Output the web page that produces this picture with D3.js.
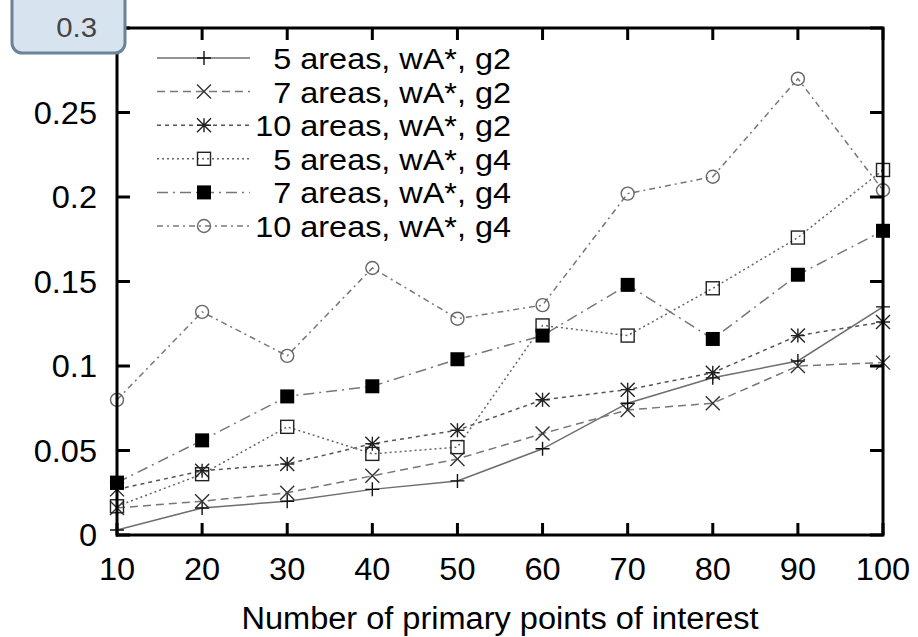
<!DOCTYPE html>
<html>
<head>
<meta charset="utf-8">
<script src="https://cdn.jsdelivr.net/npm/d3@7"></script>
<style>
  html, body { margin: 0; padding: 0; background: #fff; }
  svg { display: block; }
  text { font-family: "Liberation Sans", Arial, Helvetica, sans-serif; }
</style>
</head>
<body>
<svg id="chart" width="918" height="637"></svg>
<script>
// Number of primary points of interest
const xValues = [10, 20, 30, 40, 50, 60, 70, 80, 90, 100];

// one array per configuration
const areas5g2  = [0.003, 0.016, 0.020, 0.027, 0.032, 0.051, 0.078, 0.093, 0.103, 0.135];
const areas7g2  = [0.016, 0.020, 0.025, 0.035, 0.045, 0.060, 0.074, 0.078, 0.100, 0.102];
const areas10g2 = [0.027, 0.038, 0.042, 0.054, 0.062, 0.080, 0.086, 0.096, 0.118, 0.126];
const areas5g4  = [0.017, 0.036, 0.064, 0.048, 0.052, 0.124, 0.118, 0.146, 0.176, 0.216];
const areas7g4  = [0.031, 0.056, 0.082, 0.088, 0.104, 0.118, 0.148, 0.116, 0.154, 0.180];
const areas10g4 = [0.080, 0.132, 0.106, 0.158, 0.128, 0.136, 0.202, 0.212, 0.270, 0.204];

const seriesNames = [
  "5 areas, wA*, g2", "7 areas, wA*, g2", "10 areas, wA*, g2",
  "5 areas, wA*, g4", "7 areas, wA*, g4", "10 areas, wA*, g4"
];
const seriesValues = [areas5g2, areas7g2, areas10g2, areas5g4, areas7g4, areas10g4];

const xTicks = [10, 20, 30, 40, 50, 60, 70, 80, 90, 100];
const yTicks = [0, 0.05, 0.1, 0.15, 0.2, 0.25, 0.3];
const yTickLabels = ["0", "0.05", "0.1", "0.15", "0.2", "0.25", "0.3"];
const xTitle = "Number of primary points of interest";

// drawing styles per series
const styles = [
  { dash: null,          line: "#6e6e6e", mark: "plus",   markColor: "#111" },
  { dash: "8,5",         line: "#777",    mark: "cross",  markColor: "#333" },
  { dash: "4,4",         line: "#555",    mark: "star",   markColor: "#222" },
  { dash: "2,3",         line: "#666",    mark: "square", markColor: "#222" },
  { dash: "11,5,2,5",    line: "#777",    mark: "filled", markColor: "#000" },
  { dash: "6,4,2,4",     line: "#777",    mark: "circle", markColor: "#666" }
];

const svg = d3.select("#chart");
const plotLeft = 117, plotRight = 883, plotTop = 28, plotBottom = 535;

const x = d3.scaleLinear().domain([10, 100]).range([plotLeft, plotRight]);
const y = d3.scaleLinear().domain([0, 0.3]).range([plotBottom, plotTop]);

function stretchedText(g, str, px, py, size, anchor, sx) {
  return g.append("text")
    .attr("transform", `translate(${px},${py}) scale(${sx},1)`)
    .attr("font-size", size)
    .attr("text-anchor", anchor)
    .attr("fill", "#000")
    .text(str);
}

function drawMarker(g, kind, cx, cy, color) {
  const s = 7;
  if (kind === "plus") {
    g.append("path").attr("d", `M${cx - s},${cy}H${cx + s}M${cx},${cy - s}V${cy + s}`)
      .attr("stroke", color).attr("stroke-width", 1.4).attr("fill", "none");
  } else if (kind === "cross") {
    g.append("path").attr("d", `M${cx - s},${cy - s}L${cx + s},${cy + s}M${cx - s},${cy + s}L${cx + s},${cy - s}`)
      .attr("stroke", color).attr("stroke-width", 1.4).attr("fill", "none");
  } else if (kind === "star") {
    g.append("path").attr("d",
      `M${cx - s},${cy - s}L${cx + s},${cy + s}M${cx - s},${cy + s}L${cx + s},${cy - s}` +
      `M${cx - s},${cy}H${cx + s}M${cx},${cy - s}V${cy + s}`)
      .attr("stroke", color).attr("stroke-width", 1.4).attr("fill", "none");
  } else if (kind === "square") {
    g.append("rect").attr("x", cx - 6.5).attr("y", cy - 6.5).attr("width", 13).attr("height", 13)
      .attr("stroke", color).attr("stroke-width", 1.4).attr("fill", "none");
  } else if (kind === "filled") {
    g.append("rect").attr("x", cx - 7).attr("y", cy - 7).attr("width", 14).attr("height", 14)
      .attr("fill", color);
  } else if (kind === "circle") {
    g.append("circle").attr("cx", cx).attr("cy", cy).attr("r", 6.5)
      .attr("stroke", color).attr("stroke-width", 1.4).attr("fill", "none");
  }
}

// series lines
const line = d3.line().x(d => x(d[0])).y(d => y(d[1]));
const plot = svg.append("g");
seriesValues.forEach((vals, i) => {
  const pts = xValues.map((xv, j) => [xv, vals[j]]);
  plot.append("path")
    .attr("d", line(pts))
    .attr("fill", "none")
    .attr("stroke", styles[i].line)
    .attr("stroke-width", 1.5)
    .attr("stroke-dasharray", styles[i].dash);
});
seriesValues.forEach((vals, i) => {
  xValues.forEach((xv, j) => drawMarker(plot, styles[i].mark, x(xv), y(vals[j]), styles[i].markColor));
});

// ticks pointing inward on all four sides
const axes = svg.append("g").attr("stroke", "#000").attr("stroke-width", 3);
xTicks.forEach(t => {
  axes.append("line").attr("x1", x(t)).attr("x2", x(t)).attr("y1", plotBottom).attr("y2", plotBottom - 12);
  axes.append("line").attr("x1", x(t)).attr("x2", x(t)).attr("y1", plotTop).attr("y2", plotTop + 12);
});
yTicks.forEach(t => {
  axes.append("line").attr("x1", plotLeft).attr("x2", plotLeft + 13).attr("y1", y(t)).attr("y2", y(t));
  axes.append("line").attr("x1", plotRight).attr("x2", plotRight - 13).attr("y1", y(t)).attr("y2", y(t));
});
// frame
axes.append("rect").attr("x", plotLeft).attr("y", plotTop)
  .attr("width", plotRight - plotLeft).attr("height", plotBottom - plotTop)
  .attr("fill", "none");

// tick labels
const labels = svg.append("g");
xTicks.forEach(t => stretchedText(labels, String(t), x(t), 580, 31, "middle", 1.05));
yTicks.forEach((t, i) => {
  if (i === yTicks.length - 1) return;
  stretchedText(labels, yTickLabels[i], 97, y(t) + 11, 31, "end", 1.05);
});

// axis title
stretchedText(labels, xTitle, (plotLeft + plotRight) / 2, 629, 31, "middle", 1.05);

// legend
const legend = svg.append("g");
seriesNames.forEach((name, i) => {
  const ly = 58 + i * 33.6;
  legend.append("line")
    .attr("x1", 157).attr("x2", 250).attr("y1", ly).attr("y2", ly)
    .attr("stroke", styles[i].line).attr("stroke-width", 1.5)
    .attr("stroke-dasharray", styles[i].dash);
  drawMarker(legend, styles[i].mark, 204, ly, styles[i].markColor);
  stretchedText(legend, name, 511, ly + 11, 30, "end", 1.08);
});

// highlighted top value label
const badge = svg.append("g");
badge.append("rect")
  .attr("x", 12).attr("y", -20).attr("width", 113).attr("height", 73).attr("rx", 10)
  .attr("fill", "#d7e4ef").attr("stroke", "#6b8399").attr("stroke-width", 3);
stretchedText(badge, yTickLabels[yTickLabels.length - 1], 97, y(0.3) + 9, 28, "end", 1.05)
  .attr("fill", "#444");
</script>
</body>
</html>
